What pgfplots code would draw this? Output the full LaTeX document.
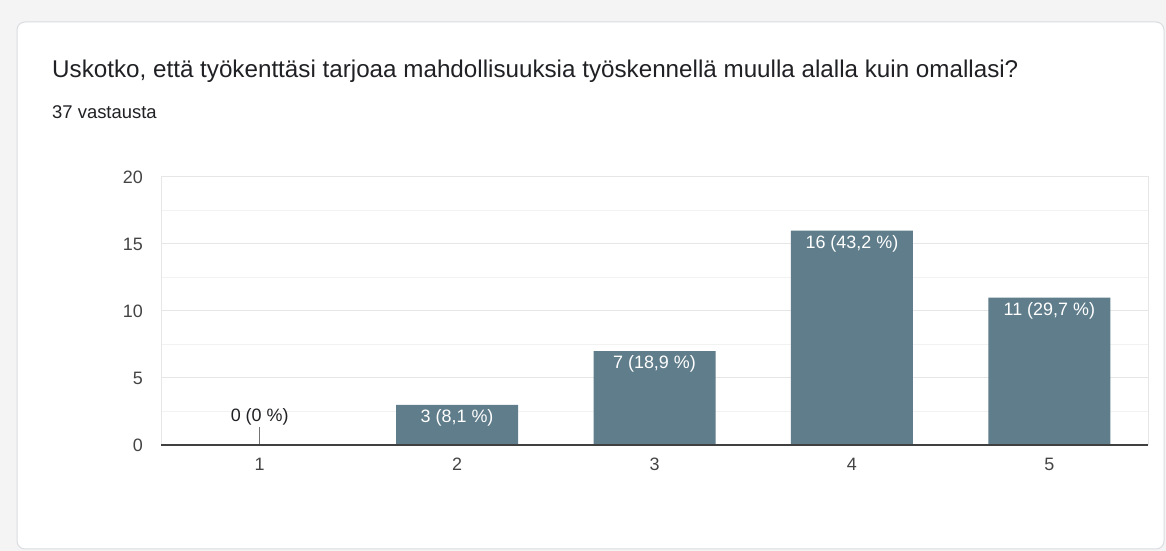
\documentclass[border=0pt]{standalone}
\usepackage{fontspec}
\setmainfont{Liberation Sans}
\usepackage{pgfplots}
\pgfplotsset{compat=1.18}
\definecolor{barc}{HTML}{607D8B}
\definecolor{bgc}{HTML}{F4F4F4}
\definecolor{cardline}{HTML}{DADCE0}
\definecolor{titlec}{HTML}{202124}
\definecolor{tickc}{HTML}{444444}
\definecolor{gridc}{HTML}{E6E6E6}
\definecolor{gridm}{HTML}{F2F2F2}
\begin{document}
\begin{tikzpicture}
\useasboundingbox (0,0) rectangle (1166bp,551bp);
\fill[bgc] (0,0) rectangle (1166bp,551bp);
\draw[fill=white, draw=cardline, line width=1bp, rounded corners=8bp] (17bp,2bp) rectangle (1164bp,529bp);
\node[anchor=base west, inner sep=0pt, font=\fontsize{24.3}{28}\selectfont, text=titlec] at (52bp,473bp) {Uskotko, että työkenttäsi tarjoaa mahdollisuuksia työskennellä muulla alalla kuin omallasi?};
\node[anchor=base west, inner sep=0pt, font=\fontsize{18.5}{22}\selectfont, text=titlec] at (52bp,432bp) {37 vastausta};
\begin{axis}[
  at={(161bp,106bp)}, anchor=south west,
  scale only axis, width=987bp, height=268bp,
  xmin=0.5, xmax=5.5, ymin=0, ymax=20,
  xtick={1,2,3,4,5},
  ytick={0,5,10,15,20},
  minor ytick={2.5,7.5,12.5,17.5},
  ymajorgrids, yminorgrids,
  major grid style={draw=gridc, line width=1bp},
  minor grid style={draw=gridm, line width=1bp},
  axis line style={draw=gridc, line width=1bp},
  major tick length=0pt, minor tick length=0pt,
  tick style={draw=none},
  /pgf/number format/assume math mode=true,
  ticklabel style={font=\fontsize{18}{21}\selectfont, text=tickc, inner sep=0pt},
  yticklabel style={anchor=east, xshift=-18bp},
  xticklabel style={anchor=north, yshift=-13bp},
  clip=false,
]
\addplot[ybar, bar width=122bp, fill=barc, draw=none,
  point meta=explicit symbolic,
  nodes near coords,
  nodes near coords style={text=white, font=\fontsize{18}{21}\selectfont, anchor=center, yshift=-13bp, inner sep=0pt}]
  coordinates {(2,3) [3 (8,1 \%)] (3,7) [7 (18,9 \%)] (4,16) [16 (43,2 \%)] (5,11) [11 (29,7 \%)]};
\addplot[ybar, bar width=122bp, fill=none, draw=none,
  point meta=explicit symbolic,
  nodes near coords,
  nodes near coords style={text=titlec, font=\fontsize{18}{21}\selectfont, anchor=center, yshift=28bp, inner sep=0pt}]
  coordinates {(1,0) [0 (0 \%)]};
\addplot[draw=black!55, line width=0.9bp] coordinates {(1,0) (1,1.35)};
\draw[draw=black!75, line width=1.5bp] (axis cs:0.5,0) -- (axis cs:5.5,0);
\end{axis}
\end{tikzpicture}
\end{document}
